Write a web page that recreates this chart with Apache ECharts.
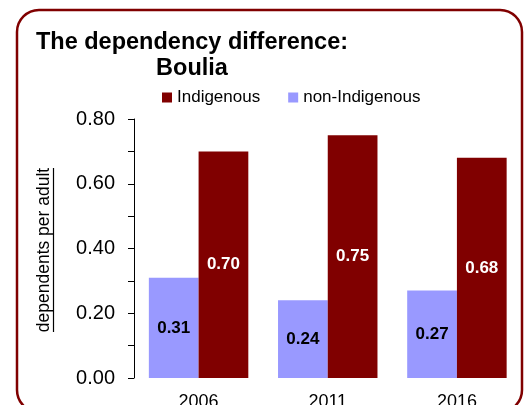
<!DOCTYPE html>
<html>
<head>
<meta charset="utf-8">
<script src="https://cdn.jsdelivr.net/npm/echarts@6/dist/echarts.min.js"></script>
<style>
html,body{margin:0;padding:0;background:#fff;}
#chart{width:531px;height:405px;}
</style>
</head>
<body>
<div id="chart"></div>
<script>
// data
const years = ['2006', '2011', '2016'];
const indigenous = [0.70, 0.75, 0.68];
const nonIndigenous = [0.31, 0.24, 0.27];
const legendNames = ['Indigenous', 'non-Indigenous'];

const FONT = "'Liberation Sans', Arial, sans-serif";
const RED = '#800000';
const BLUE = '#9999FF';

let myecharts = echarts.init(document.getElementById('chart'));
let option = {
  animation: false,
  textStyle: { fontFamily: FONT },
  title: {
    text: 'The dependency difference:\nBoulia',
    left: 187,
    top: 25,
    textAlign: 'center',
    textStyle: {
      fontFamily: FONT,
      fontSize: 23.5,
      fontWeight: 'bold',
      color: '#000',
      lineHeight: 26
    }
  },
  legend: {
    data: legendNames,
    left: 157,
    top: 84,
    icon: 'rect',
    itemWidth: 10,
    itemHeight: 10,
    itemGap: 28,
    textStyle: { fontFamily: FONT, fontSize: 17, color: '#000' }
  },
  grid: {
    left: 134,
    right: 9.5,
    top: 119,
    bottom: 27,
    containLabel: false,
    outerBoundsMode: 'none'
  },
  xAxis: {
    type: 'category',
    data: years,
    axisLine: { show: false },
    axisTick: { show: false },
    axisLabel: {
      margin: 15,
      fontFamily: FONT,
      fontSize: 18,
      color: '#000'
    }
  },
  yAxis: {
    type: 'value',
    min: 0,
    max: 0.8,
    interval: 0.1,
    splitLine: { show: false },
    axisLine: { show: true, lineStyle: { color: '#000', width: 1 } },
    axisTick: { show: true, inside: false, length: 6, lineStyle: { color: '#000' } },
    axisLabel: {
      margin: 19,
      fontFamily: FONT,
      fontSize: 20,
      color: '#000',
      formatter: function (v) {
        // only every second tick gets a label
        return Math.round(v * 10) % 2 === 0 ? v.toFixed(2) : '';
      }
    }
  },
  graphic: [
    {
      // rounded frame
      type: 'rect',
      shape: { x: 17, y: 10, width: 505, height: 402, r: 22 },
      style: { fill: 'none', stroke: RED, lineWidth: 2.5 },
      silent: true
    },
    {
      type: 'text',
      x: 44,
      y: 250,
      rotation: Math.PI / 2,
      style: {
        text: 'dependents per adult',
        fontFamily: FONT,
        fontSize: 17.5,
        fill: '#000',
        align: 'center',
        verticalAlign: 'middle'
      },
      silent: true
    },
    {
      // underline of the axis name
      type: 'line',
      shape: { x1: 53.5, y1: 168, x2: 53.5, y2: 332 },
      style: { stroke: '#000', lineWidth: 1.2 },
      silent: true
    }
  ],
  series: [
    {
      name: 'non-Indigenous',
      type: 'bar',
      data: nonIndigenous,
      barGap: '0%',
      barCategoryGap: '23%',
      itemStyle: { color: BLUE },
      label: {
        show: true,
        position: 'inside',
        fontFamily: FONT,
        fontSize: 17,
        fontWeight: 'bold',
        color: '#000',
        formatter: function (p) { return p.value.toFixed(2); }
      }
    },
    {
      name: 'Indigenous',
      type: 'bar',
      data: indigenous,
      barGap: '0%',
      barCategoryGap: '23%',
      itemStyle: { color: RED },
      label: {
        show: true,
        position: 'inside',
        fontFamily: FONT,
        fontSize: 17,
        fontWeight: 'bold',
        color: '#fff',
        formatter: function (p) { return p.value.toFixed(2); }
      }
    }
  ]
};
myecharts.setOption(option);
</script>
</body>
</html>
